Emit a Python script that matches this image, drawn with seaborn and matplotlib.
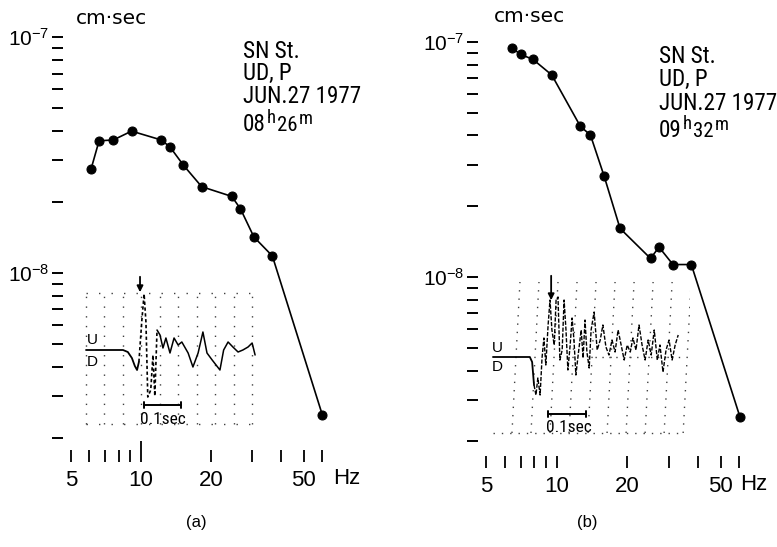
import matplotlib
matplotlib.use("Agg")
import matplotlib.pyplot as plt
import matplotlib.font_manager as fm
from matplotlib.font_manager import FontProperties
from matplotlib.ticker import (FixedLocator, FixedFormatter, LogLocator,
                               NullFormatter, NullLocator)
import pandas as pd
import seaborn as sns

# ---- displacement spectra (cm*sec) against frequency (Hz) ----
freq_a = [6.1, 6.6, 7.6, 9.1, 12.2, 13.3, 15.2, 18.2, 24.5, 26.7, 30.5, 36.6, 60.0]
amp_a = [2.76e-8, 3.63e-8, 3.66e-8, 3.99e-8, 3.66e-8, 3.42e-8, 2.86e-8,
         2.32e-8, 2.11e-8, 1.87e-8, 1.42e-8, 1.18e-8, 2.5e-9]
freq_b = [6.4, 7.0, 7.9, 9.5, 12.6, 13.9, 15.9, 18.6, 25.1, 27.3, 31.3, 37.5, 60.5]
amp_b = [9.46e-8, 8.85e-8, 8.43e-8, 7.24e-8, 4.37e-8, 4.02e-8, 2.69e-8,
         1.61e-8, 1.20e-8, 1.34e-8, 1.13e-8, 1.13e-8, 2.54e-9]

x_ticks = [5, 6, 7, 8, 9, 10, 20, 30, 40, 50, 60]
x_tick_labels = ["5", "", "", "", "", "10", "20", "", "", "50", ""]
y_major = [1e-8, 1e-7]
y_tick_labels = [r"$\mathsf{10^{-8}}$", r"$\mathsf{10^{-7}}$"]

caption_a = ["SN St.", "UD, P", "JUN.27 1977"]
caption_b = ["SN St.", "UD, P", "JUN.27 1977"]
origin_a = [("08", 1.0, 0), ("h", 0.8, 8), ("26", 0.9, 0), ("m", 0.8, 7)]
origin_b = [("09", 1.0, 0), ("h", 0.8, 8), ("32", 0.9, 0), ("m", 0.8, 7)]

# ---- P-wave seismograms (time in s, trace amplitude in arbitrary units) ----
trace_a_t = [0.000, 0.100, 0.113, 0.124, 0.132, 0.138, 0.143, 0.151, 0.157, 0.162,
             0.167, 0.175, 0.181, 0.186, 0.192, 0.200, 0.208, 0.216, 0.227, 0.238,
             0.249, 0.259, 0.276, 0.289, 0.303, 0.316, 0.327, 0.341, 0.362, 0.372,
             0.384, 0.397, 0.411, 0.424, 0.438, 0.449, 0.457]
trace_a_v = [0, 0, -2, -8, -16, -20, -12, 30, 56, 28,
             -47, -40, -5, -46, 20, 15, 2, 12, -3, 12,
             5, 8, -3, -17, -3, 18, -3, -10, -20, 0,
             8, 3, -2, 0, 3, 7, -5]
trace_b_t = [0.000, 0.097, 0.103, 0.108, 0.113, 0.118, 0.124, 0.129, 0.134, 0.139,
             0.145, 0.150, 0.155, 0.161, 0.166, 0.171, 0.176, 0.182, 0.187, 0.192,
             0.197, 0.203, 0.208, 0.213, 0.218, 0.224, 0.232, 0.237, 0.242, 0.247,
             0.253, 0.258, 0.266, 0.274, 0.282, 0.289, 0.297, 0.305, 0.313, 0.321,
             0.329, 0.337, 0.345, 0.353, 0.361, 0.368, 0.376, 0.384, 0.392, 0.400,
             0.408, 0.416, 0.424, 0.432, 0.439, 0.447, 0.455, 0.463, 0.471, 0.479,
             0.487]
trace_b_v = [0, 0, -5, -28, -38, -21, -38, -1, 19, -8,
             32, 57, 27, 12, 57, 60, -3, 7, 57, 27,
             -13, 12, 39, 17, -18, 2, 27, -1, 37, 5,
             -11, 27, 45, 7, 17, 32, 10, 2, 17, 5,
             27, 12, -3, 12, 5, 19, 7, 32, 12, -3,
             17, 2, 27, -3, 12, -15, 7, 17, -3, 12,
             22]
timing_a = [0.0, 0.05, 0.10, 0.15, 0.20, 0.25, 0.30, 0.35, 0.40, 0.45]
timing_b = [0.05, 0.10, 0.15, 0.20, 0.25, 0.30, 0.35, 0.40, 0.45, 0.50]

sns.set_style("white")
plt.rcParams.update({
    "font.family": ["Liberation Sans", "DejaVu Sans"],
    "text.color": "black",
    "axes.labelcolor": "black",
    "xtick.color": "black",
    "ytick.color": "black",
    "mathtext.fontset": "custom",
    "mathtext.rm": "Liberation Sans",
    "mathtext.sf": "Liberation Sans",
})


def condensed_font():
    """Pick an installed narrow/condensed sans face for the lettering."""
    preferred = ["Liberation Sans Narrow", "Roboto Condensed", "Noto Sans",
                 "Open Sans", "DejaVu Sans"]
    cands = []
    for f in fm.fontManager.ttflist:
        narrow = ("Narrow" in f.name or "Condensed" in f.name
                  or str(f.stretch) in ("condensed", "semi-condensed"))
        if narrow and f.style == "normal" and f.weight in (400, "normal", "regular"):
            cands.append(f)
    for name in preferred:
        for f in cands:
            if f.name.startswith(name):
                return f.fname
    return cands[0].fname if cands else None


narrow_path = condensed_font()


def letter_font(size):
    if narrow_path:
        return FontProperties(fname=narrow_path, size=size)
    return FontProperties(family="Liberation Sans", size=size)


W, H = 777, 547
fig = plt.figure(figsize=(W / 100, H / 100), dpi=100, facecolor="white")
renderer = fig.canvas.get_renderer()


def fitted_size(sample, max_size, target_px):
    t = fig.text(0, 0, sample, fontproperties=letter_font(max_size))
    w = t.get_window_extent(renderer).width
    t.remove()
    return min(max_size, max_size * target_px / w)


cap_size = fitted_size("JUN.27 1977", 17, 118)
bar_size = fitted_size("0.1sec", 14, 46)


def box(left, top, right, bottom):
    """Axes rectangle from pixel edges measured from the top-left corner."""
    return [left / W, 1 - bottom / H, (right - left) / W, (bottom - top) / H]


def spectrum_panel(rect, freq, amp, xlim, ylim, long_ten, hz_at):
    ax = fig.add_axes(rect)
    ax.set_xscale("log")
    ax.set_yscale("log")
    df = pd.DataFrame({"f": freq, "a": amp})
    sns.lineplot(data=df, x="f", y="a", ax=ax, color="black", lw=1.2,
                 marker="o", markersize=6.5, markeredgecolor="black",
                 estimator=None, sort=False)
    ax.set_xlim(*xlim)
    ax.set_ylim(*ylim)
    ax.set_xlabel("")
    ax.set_ylabel("")
    ax.xaxis.set_major_locator(FixedLocator(x_ticks))
    ax.xaxis.set_major_formatter(FixedFormatter(x_tick_labels))
    ax.xaxis.set_minor_locator(NullLocator())
    ax.yaxis.set_major_locator(FixedLocator(y_major))
    ax.yaxis.set_major_formatter(FixedFormatter(y_tick_labels))
    ax.yaxis.set_minor_locator(LogLocator(base=10, subs=range(2, 10)))
    ax.yaxis.set_minor_formatter(NullFormatter())
    ax.tick_params(axis="y", which="both", direction="out", length=8,
                   width=1.4, pad=2, labelsize=15, left=True)
    ax.tick_params(axis="x", which="major", direction="in", length=9,
                   width=1.3, pad=6, labelsize=16, bottom=True)
    if long_ten:
        ax.xaxis.get_major_ticks()[5].tick1line.set_markersize(15)
    sns.despine(ax=ax, left=True, bottom=True)
    ax.set_facecolor("none")
    ax.annotate("Hz", xy=(hz_at, 0), xycoords=("data", "axes fraction"),
                xytext=(0, -12), textcoords="offset points",
                ha="center", va="center", fontsize=16)
    return ax


ax_a = spectrum_panel(box(63, 20, 370, 462), freq_a, amp_a,
                      (4.62, 96.1), (1.58e-9, 1.18e-7), True, 76)
ax_b = spectrum_panel(box(478, 20, 777, 468), freq_b, amp_b,
                      (4.60, 87.1), (1.54e-9, 1.24e-7), False, 69)

# units and event captions
fig.text(111 / W, 1 - 19 / H, "cm\u00b7sec", family="DejaVu Sans",
         fontsize=14.5, ha="center", va="center")
fig.text(529 / W, 1 - 17 / H, "cm\u00b7sec", family="DejaVu Sans",
         fontsize=14.5, ha="center", va="center")


def origin_time(pieces, x0, yb):
    """Write a time like 08h26m with raised unit letters, piece by piece."""
    x = x0
    for txt, scale, rise in pieces:
        t = fig.text(x / W, 1 - (yb - rise) / H, txt,
                     fontproperties=letter_font(cap_size * scale),
                     ha="left", va="baseline")
        x += t.get_window_extent(renderer).width + 1


for lines, pieces, x0, baselines in ((caption_a, origin_a, 243, (58, 80, 103, 131)),
                                     (caption_b, origin_b, 659, (63, 86, 110, 137))):
    for txt, yb in zip(lines, baselines[:3]):
        fig.text(x0 / W, 1 - yb / H, txt, fontproperties=letter_font(cap_size),
                 ha="left", va="baseline")
    origin_time(pieces, x0, baselines[3])

fig.text(196 / W, 1 - 522 / H, "(a)", fontsize=12, ha="center", va="center")
fig.text(587 / W, 1 - 523 / H, "(b)", fontsize=12, ha="center", va="center")

dot = (0, (1, 6))


def seismogram(rect, xlim, ylim):
    ax = fig.add_axes(rect)
    ax.set_xlim(*xlim)
    ax.set_ylim(*ylim)
    ax.axis("off")
    ax.patch.set_alpha(0)
    return ax


# inset (a)
ins_a = seismogram(box(84, 270, 270, 440), (-0.0054, 0.4973), (-90, 80))
ins_a.vlines(timing_a, -74, 57, colors="0.25", lw=1.0, linestyles=[dot])
ins_a.hlines([57, -74], timing_a[0], timing_a[-1], colors="0.25", lw=1.0,
             linestyles=[(0, (1, 8))])
ins_a.plot(trace_a_t[:7], trace_a_v[:7], color="black", lw=1.3)
ins_a.plot(trace_a_t[6:15], trace_a_v[6:15], color="black", lw=1.2,
           ls=(0, (2, 1.5)))
ins_a.plot(trace_a_t[14:], trace_a_v[14:], color="black", lw=1.1)
ins_a.annotate("", xy=(0.146, 55), xytext=(0.146, 76),
               arrowprops=dict(arrowstyle="-|>", color="black", lw=1.3,
                               mutation_scale=9))
ins_a.annotate("", xy=(0.257, -55), xytext=(0.157, -55),
               arrowprops=dict(arrowstyle="|-|, widthA=0.25, widthB=0.25",
                               color="black", lw=1.4, shrinkA=0, shrinkB=0))
ins_a.text(0.207, -69, "0.1sec", fontproperties=letter_font(bar_size),
           ha="center", va="center")
ins_a.text(0.016, 10, "U", fontsize=11, ha="center", va="center")
ins_a.text(0.016, -12, "D", fontsize=11, ha="center", va="center")

# inset (b)
ins_b = seismogram(box(488, 268, 690, 445), (-0.013, 0.518), (-88, 89))
for t0 in timing_b:
    ins_b.plot([t0, t0 + 0.021], [-76, 75], color="0.25", lw=1.0, ls=(0, (1, 5)))
ins_b.hlines([-76], 0.0, 0.5, colors="0.25", lw=1.0, linestyles=[(0, (1, 5))])
ins_b.hlines([0], 0.25, 0.5, colors="0.25", lw=1.0, linestyles=[(0, (1, 4))])
ins_b.plot(trace_b_t[:4], trace_b_v[:4], color="black", lw=1.3)
ins_b.plot(trace_b_t[3:], trace_b_v[3:], color="black", lw=1.0,
           ls=(0, (3, 1.2)))
ins_b.annotate("", xy=(0.153, 54), xytext=(0.153, 84),
               arrowprops=dict(arrowstyle="-|>", color="black", lw=1.3,
                               mutation_scale=9))
ins_b.annotate("", xy=(0.245, -57), xytext=(0.145, -57),
               arrowprops=dict(arrowstyle="|-|, widthA=0.25, widthB=0.25",
                               color="black", lw=1.4, shrinkA=0, shrinkB=0))
ins_b.text(0.200, -71, "0.1sec", fontproperties=letter_font(bar_size),
           ha="center", va="center")
ins_b.text(0.011, 9, "U", fontsize=11, ha="center", va="center")
ins_b.text(0.011, -10, "D", fontsize=11, ha="center", va="center")

fig.savefig("out.png", dpi=100, facecolor="white")
